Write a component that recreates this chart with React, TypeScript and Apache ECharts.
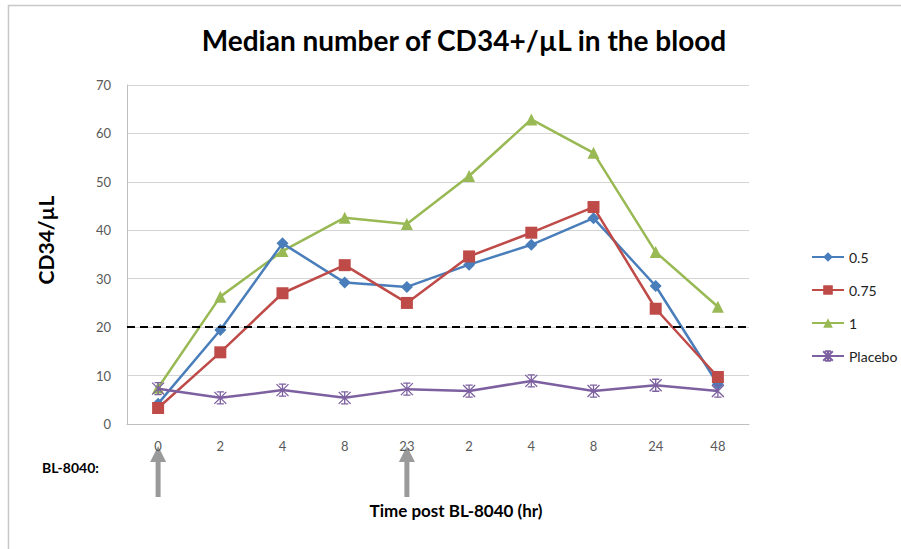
import React, { useEffect, useRef } from "react";
import * as echarts from "echarts";

const categories = ["0", "2", "4", "8", "23", "2", "4", "8", "24", "48"];
const s05 = [4.2, 19.4, 37.3, 29.2, 28.3, 32.9, 37.0, 42.5, 28.5, 8.2];
const s075 = [3.3, 14.8, 27.0, 32.8, 25.0, 34.6, 39.5, 44.8, 23.8, 9.7];
const s1 = [7.5, 26.3, 35.7, 42.6, 41.3, 51.2, 62.9, 56.0, 35.5, 24.2];
const placebo = [7.3, 5.4, 7.0, 5.4, 7.2, 6.8, 8.9, 6.8, 8.0, 6.8];
const thresholdValue = 20;
const arrowCategoryIndices = [0, 4];
const yTicks = { min: 0, max: 70, interval: 10 };

const FONT = "Lato, 'Open Sans', sans-serif";

export default function App() {
  const ref = useRef<HTMLDivElement>(null);
  useEffect(() => {
    if (!ref.current) return;
    const chart = echarts.init(ref.current, null, { renderer: "svg" });
    const lineW = 2.5;
    const option: any = {
      animation: false,
      backgroundColor: "#ffffff",
      textStyle: { fontFamily: FONT },
      title: {
        text: "Median number of CD34+/µL in the blood",
        left: 459,
        textAlign: "center",
        top: 21,
        textStyle: { fontFamily: FONT, fontSize: 28, fontWeight: "bold", color: "#000" },
      },
      legend: {
        orient: "vertical",
        left: 806,
        top: 245,
        itemGap: 19,
        itemWidth: 32,
        itemHeight: 12,
        textStyle: { fontFamily: FONT, fontSize: 14, color: "#222" },
        data: ["0.5", "0.75", "1", "Placebo"],
      },
      grid: { left: 127, right: 152, top: 85, bottom: 125 },
      xAxis: {
        type: "category",
        data: categories,
        boundaryGap: true,
        axisLine: { show: true, lineStyle: { color: "#bfbfbf", width: 1 } },
        axisTick: { show: false },
        axisLabel: { margin: 15, fontSize: 13, color: "#595959", fontFamily: FONT },
      },
      yAxis: {
        type: "value",
        min: yTicks.min,
        max: yTicks.max,
        interval: yTicks.interval,
        axisLine: { show: true, lineStyle: { color: "#bfbfbf", width: 1 } },
        axisTick: { show: false },
        splitLine: { show: true, lineStyle: { color: "#d4d4d4", width: 1 } },
        axisLabel: { margin: 16, fontSize: 13, color: "#595959", fontFamily: FONT },
      },
      series: [
        {
          name: "0.5",
          type: "line",
          data: s05,
          color: "#4a7ebb",
          symbol: "diamond",
          symbolSize: 12,
          lineStyle: { width: lineW },
          z: 3,
          markLine: {
            silent: true,
            symbol: "none",
            label: { show: false },
            lineStyle: { color: "#000", type: [8, 5], width: 2 },
            data: [{ yAxis: thresholdValue }],
          },
        },
        {
          name: "0.75",
          type: "line",
          data: s075,
          color: "#be4b48",
          symbol: "rect",
          symbolSize: 12,
          lineStyle: { width: lineW },
          z: 4,
        },
        {
          name: "1",
          type: "line",
          data: s1,
          color: "#98b954",
          symbol: "triangle",
          symbolSize: 12,
          lineStyle: { width: lineW },
          z: 2,
        },
        {
          name: "Placebo",
          type: "line",
          data: placebo,
          color: "#7d60a0",
          symbol: "path://M0,0 L10,10 M10,0 L0,10 M5,0 L5,10 M2,0 L8,0 M2,10 L8,10",
          symbolSize: 12,
          itemStyle: { color: "rgba(0,0,0,0)", borderColor: "#7d60a0", borderWidth: 1.3 },
          lineStyle: { width: lineW, color: "#7d60a0" },
          z: 5,
        },
      ],
    };
    chart.setOption(option);

    const arrows: any[] = arrowCategoryIndices.map((idx) => {
      const px = chart.convertToPixel({ xAxisIndex: 0 }, idx) as number;
      return {
        type: "group",
        children: [
          {
            type: "rect",
            shape: { x: px - 2.5, y: 460, width: 5, height: 37 },
            style: { fill: "#9a9a9a" },
          },
          {
            type: "polygon",
            shape: { points: [[px, 446], [px - 8, 462], [px + 8, 462]] },
            style: { fill: "#9a9a9a" },
          },
        ],
      };
    });

    chart.setOption({
      graphic: [
        {
          type: "rect",
          shape: { x: 8.5, y: 5.5, width: 920, height: 560 },
          style: { fill: "none", stroke: "#c8c8c8", lineWidth: 1.5 },
          silent: true,
        },
        {
          type: "text",
          x: 45,
          y: 240,
          rotation: Math.PI / 2,
          style: {
            text: "CD34/µL",
            fontFamily: FONT,
            fontSize: 21,
            fontWeight: "bold",
            fill: "#000",
            align: "center",
            verticalAlign: "middle",
          },
        },
        {
          type: "text",
          x: 42,
          y: 467,
          style: {
            text: "BL-8040:",
            fontFamily: FONT,
            fontSize: 14,
            fontWeight: "bold",
            fill: "#000",
            verticalAlign: "middle",
          },
        },
        {
          type: "text",
          x: 456,
          y: 510,
          style: {
            text: "Time post BL-8040 (hr)",
            fontFamily: FONT,
            fontSize: 17,
            fontWeight: "bold",
            fill: "#000",
            align: "center",
            verticalAlign: "middle",
          },
        },
        ...arrows,
      ],
    });

    return () => chart.dispose();
  }, []);
  return (
    <div
      ref={ref}
      style={{ position: "absolute", left: 0, top: 0, width: 901, height: 549 }}
    />
  );
}
